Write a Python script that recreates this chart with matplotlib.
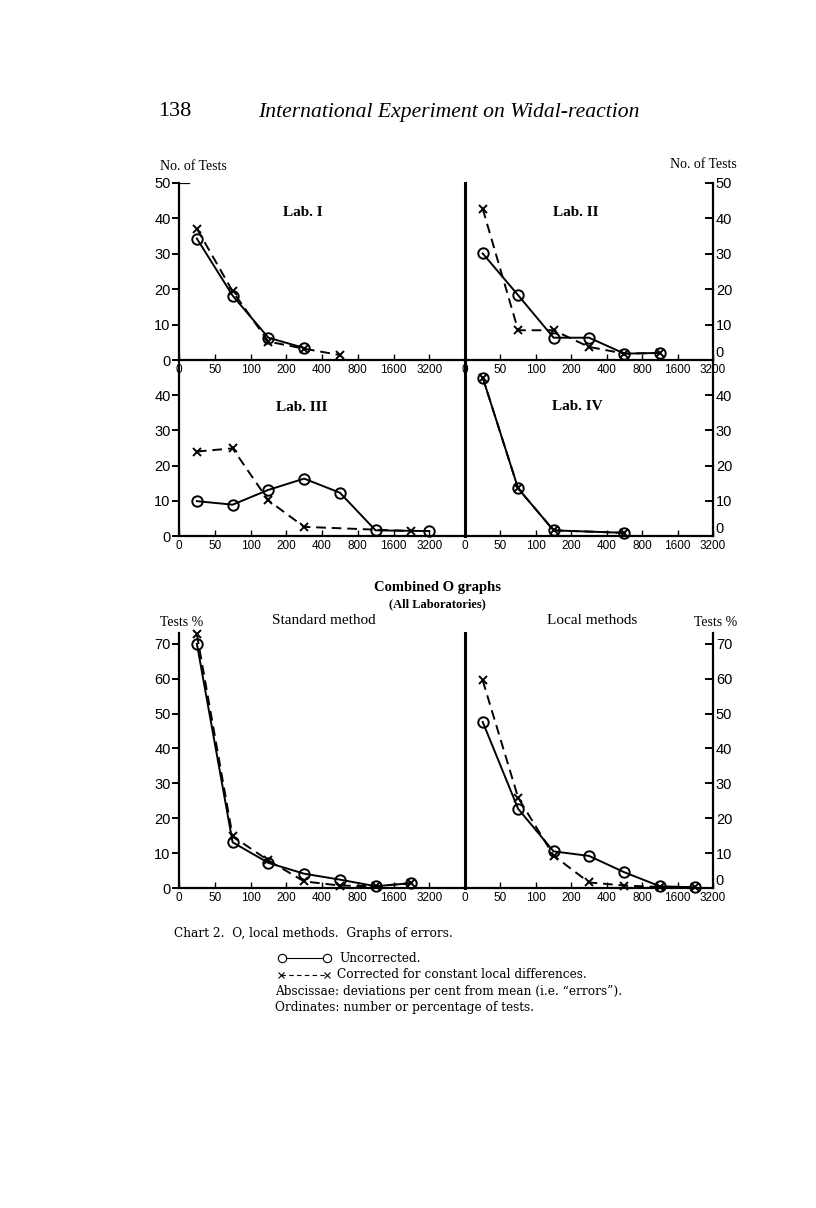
import matplotlib
matplotlib.use("Agg")
import matplotlib.pyplot as plt
from matplotlib.lines import Line2D

W, H = 816, 1208

# categories on the abscissa (deviations per cent from mean)
x_labels = ["0", "50", "100", "200", "400", "800", "1600", "3200"]

# Lab. I
lab1_unc_x = [0.5, 1.5, 2.5, 3.5]
lab1_unc_y = [34.3, 18.2, 6.3, 3.4]
lab1_cor_x = [0.5, 1.5, 2.5, 3.5, 4.5]
lab1_cor_y = [37.1, 19.4, 5.2, 3.2, 1.4]

# Lab. II
lab2_x = [0.5, 1.5, 2.5, 3.5, 4.5, 5.5]
lab2_unc_y = [30.1, 18.3, 6.3, 6.3, 1.8, 2.0]
lab2_cor_y = [42.7, 8.4, 8.4, 3.7, 1.8, 2.0]

# Lab. III
lab3_unc_x = [0.5, 1.5, 2.5, 3.5, 4.5, 5.5, 7.0]
lab3_unc_y = [9.9, 8.9, 13.1, 16.3, 12.3, 1.6, 1.4]
lab3_cor_x = [0.5, 1.5, 2.5, 3.5, 6.5]
lab3_cor_y = [24.0, 24.9, 10.1, 2.6, 1.4]

# Lab. IV (both series coincide)
lab4_x = [0.5, 1.5, 2.5, 4.5]
lab4_unc_y = [45.0, 13.5, 1.6, 0.9]
lab4_cor_y = [45.0, 13.5, 1.6, 0.9]

# Combined: standard method / local methods (per cent of tests)
comb_x = [0.5, 1.5, 2.5, 3.5, 4.5, 5.5, 6.5]
std_unc_y = [70.0, 13.1, 7.2, 4.1, 2.4, 0.5, 1.4]
std_cor_y = [72.7, 14.8, 7.9, 1.9, 0.7, 0.5, 1.4]
loc_unc_y = [47.6, 22.7, 10.5, 9.2, 4.5, 0.5, 0.2]
loc_cor_y = [59.5, 25.9, 9.3, 1.6, 0.7, 0.3, 0.2]

TICKFONT = ["Liberation Sans", "DejaVu Sans"]
SERIF = ["Liberation Serif", "DejaVu Serif"]

fig = plt.figure(figsize=(W / 100, H / 100), dpi=100)
fig.patch.set_facecolor("white")


def fx(px):
    return px / W


def fy(py):
    return 1 - py / H


def panel(left, right, top, bottom, xmax, ymax, yticks, side):
    ax = fig.add_axes([fx(left), fy(bottom), (right - left) / W, (bottom - top) / H])
    ax.set_xlim(0, xmax)
    ax.set_ylim(0, ymax)
    ax.patch.set_alpha(0)
    ax.spines["top"].set_visible(False)
    for s in ax.spines.values():
        s.set_linewidth(1.6)
        s.set_color("black")
    ax.set_xticks(range(8))
    ax.set_xticklabels(x_labels, family=TICKFONT, fontsize=8.5)
    ax.tick_params(axis="x", direction="in", length=4, width=1.0, pad=3)
    ax.set_yticks(yticks)
    ax.set_yticklabels([str(t) for t in yticks], family=TICKFONT, fontsize=10.5)
    if side == "left":
        ax.spines["right"].set_linewidth(2.2)
        ax.tick_params(axis="y", direction="out", length=5, width=1.4, pad=1)
    else:
        ax.spines["left"].set_visible(False)
        ax.yaxis.tick_right()
        ax.tick_params(axis="y", direction="in", length=6, width=1.4, pad=2)
        # the "0" sits just above the baseline, clear of the "3200" below
        ax.get_yticklabels()[0].set_verticalalignment("bottom")
    return ax


def draw(ax, ux, uy, cx, cy):
    ax.plot(cx, cy, color="black", lw=1.4, ls=(0, (5, 3)), marker="x",
            ms=6, mew=1.4, clip_on=False, zorder=3)
    ax.plot(ux, uy, color="black", lw=1.4, marker="o", ms=7.5,
            mfc="none", mec="black", mew=1.4, clip_on=False, zorder=4)


# top row
ax1 = panel(179, 465, 183, 360, 8, 50, [0, 10, 20, 30, 40, 50], "left")
ax2 = panel(465, 713, 183, 360, 7, 50, [0, 10, 20, 30, 40, 50], "right")
# second row
ax3 = panel(179, 465, 360, 536, 8, 50, [0, 10, 20, 30, 40], "left")
ax4 = panel(465, 713, 360, 536, 7, 50, [0, 10, 20, 30, 40], "right")
# combined
ax5 = panel(179, 465, 633, 888, 8, 73.1, [0, 10, 20, 30, 40, 50, 60, 70], "left")
ax6 = panel(465, 713, 633, 888, 7, 73.1, [0, 10, 20, 30, 40, 50, 60, 70], "right")

ax1.axhline(50, xmax=0.035, color="black", lw=1.6)

draw(ax1, lab1_unc_x, lab1_unc_y, lab1_cor_x, lab1_cor_y)
draw(ax2, lab2_x, lab2_unc_y, lab2_x, lab2_cor_y)
draw(ax3, lab3_unc_x, lab3_unc_y, lab3_cor_x, lab3_cor_y)
draw(ax4, lab4_x, lab4_unc_y, lab4_x, lab4_cor_y)
draw(ax5, comb_x, std_unc_y, comb_x, std_cor_y)
draw(ax6, comb_x, loc_unc_y, comb_x, loc_cor_y)


def label(x, y, s, size, ha="center", **kw):
    fig.text(fx(x), fy(y), s, ha=ha, va="center", fontsize=size, family=SERIF, **kw)


# page header
label(158, 112, "138", 16, ha="left")
label(258, 112, "International Experiment on Widal-reaction", 15.6, ha="left", style="italic")

# panel titles and axis captions
label(160, 167, "No. of Tests", 10, ha="left")
label(737, 164, "No. of Tests", 10, ha="right")
label(303, 213, "Lab. I", 11, weight="bold")
label(576, 212, "Lab. II", 11, weight="bold")
label(302, 408, "Lab. III", 11, weight="bold")
label(577, 407, "Lab. IV", 11, weight="bold")
label(437, 587, "Combined O graphs", 10.5, weight="bold")
label(437, 604, "(All Laboratories)", 9, weight="bold")
label(160, 623, "Tests %", 10, ha="left")
label(324, 621, "Standard method", 11)
label(592, 621, "Local methods", 11)
label(737, 623, "Tests %", 10, ha="right")

# caption
CAP = ["DejaVu Serif"]
CS = 8.7
fig.text(fx(174), fy(933), "Chart 2.  O, local methods.  Graphs of errors.",
         fontsize=CS, family=CAP, va="center")
fig.add_artist(Line2D([fx(282), fx(327)], [fy(958), fy(958)], transform=fig.transFigure,
                      color="black", lw=0.8, marker="o", ms=6, mfc="white", mec="black", mew=0.8))
fig.text(fx(339), fy(958), "Uncorrected.", fontsize=CS, family=CAP, va="center")
fig.add_artist(Line2D([fx(281), fx(327)], [fy(975), fy(975)], transform=fig.transFigure,
                      color="black", lw=0.8, ls=(0, (4, 3)), marker="x", ms=4.5, mew=0.8))
fig.text(fx(337), fy(975), "Corrected for constant local differences.", fontsize=CS,
         family=CAP, va="center")
fig.text(fx(275), fy(991), "Abscissae: deviations per cent from mean (i.e. \u201cerrors\u201d).",
         fontsize=CS, family=CAP, va="center")
fig.text(fx(275), fy(1007), "Ordinates: number or percentage of tests.", fontsize=CS,
         family=CAP, va="center")

fig.savefig("out.png", dpi=100)
